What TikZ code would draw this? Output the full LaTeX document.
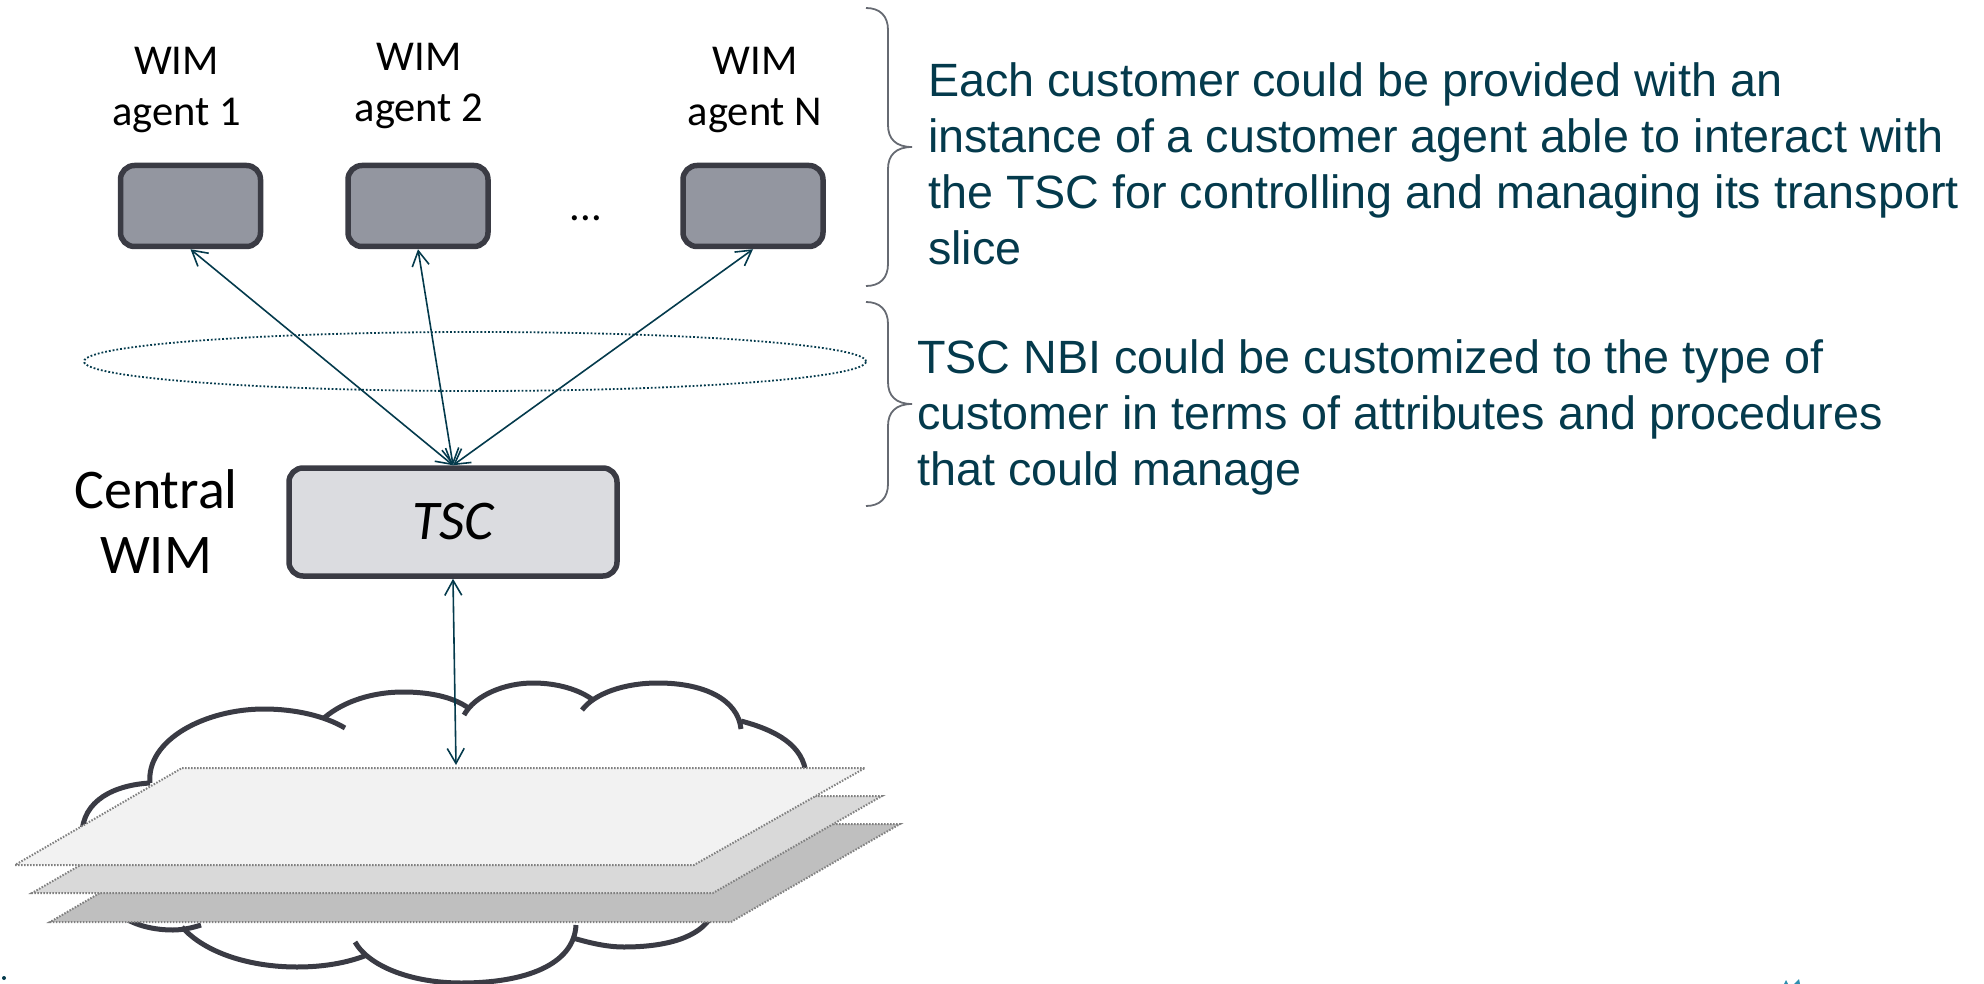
\documentclass[tikz,border=0pt]{standalone}
\usepackage{fontspec}
\setmainfont{Carlito}
\newfontfamily\bodyfont{Liberation Sans}
\usetikzlibrary{arrows.meta}

\definecolor{tealink}{HTML}{043A4C}
\definecolor{darkline}{HTML}{3A3B44}
\definecolor{agentfill}{HTML}{9396A0}
\definecolor{tscfill}{HTML}{DBDCE0}
\definecolor{bracegray}{HTML}{666A72}
\definecolor{specktint}{HTML}{2E8FB0}

\tikzset{
  agent/.style={draw=darkline, fill=agentfill, line width=5.5pt, rounded corners=14pt,
    minimum width=140pt, minimum height=81pt, inner sep=0pt},
  label/.style={align=center, inner sep=0pt, font=\fontsize{42.5}{51}\selectfont},
  biglabel/.style={align=center, inner sep=0pt, font=\fontsize{56}{65}\selectfont},
  bodytext/.style={align=left, anchor=north west, inner sep=0pt, text=tealink,
    font=\bodyfont\fontsize{46.7}{56}\selectfont},
  link/.style={<->, >={Straight Barb[length=15pt,width=17pt]}, draw=tealink, line width=1.6pt},
  cloudline/.style={draw=darkline, line width=5pt},
  slab/.style={draw=gray, dash pattern=on 1.5pt off 1.5pt, line width=2pt},
  bracket/.style={draw=bracegray, line width=1.8pt}
}

\begin{document}
\begin{tikzpicture}
  \useasboundingbox (0pt,0pt) rectangle (1984pt,-984pt);

  % cloud
  \draw[cloudline] (150pt,-783pt) .. controls (146pt,-740pt) and (205pt,-709pt) .. (264pt,-709pt)
    .. controls (295pt,-709pt) and (325pt,-716pt) .. (345pt,-728pt);
  \draw[cloudline] (324pt,-718pt) .. controls (345pt,-700pt) and (375pt,-692pt) .. (403pt,-692pt)
    .. controls (430pt,-692pt) and (452pt,-697pt) .. (467pt,-707pt);
  \draw[cloudline] (464pt,-715pt) .. controls (475pt,-695pt) and (505pt,-683pt) .. (533pt,-683pt)
    .. controls (558pt,-683pt) and (580pt,-690pt) .. (593pt,-700pt);
  \draw[cloudline] (582pt,-710pt) .. controls (595pt,-693pt) and (625pt,-683pt) .. (658pt,-683pt)
    .. controls (705pt,-683pt) and (738pt,-700pt) .. (741pt,-729pt);
  \draw[cloudline] (741pt,-721pt) .. controls (775pt,-730pt) and (804pt,-745pt) .. (806pt,-775pt);
  \draw[cloudline] (150pt,-783pt) .. controls (115pt,-785pt) and (82pt,-800pt) .. (82pt,-835pt);
  \draw[cloudline] (120pt,-915pt) .. controls (135pt,-926pt) and (155pt,-930pt) .. (173pt,-930pt)
    .. controls (182pt,-930pt) and (192pt,-928pt) .. (201pt,-925pt);
  \draw[cloudline] (182pt,-927pt) .. controls (205pt,-953pt) and (250pt,-967pt) .. (297pt,-967pt)
    .. controls (323pt,-967pt) and (347pt,-963pt) .. (367pt,-955pt);
  \draw[cloudline] (355pt,-942pt) .. controls (370pt,-968pt) and (415pt,-983pt) .. (461pt,-983pt)
    .. controls (525pt,-983pt) and (574pt,-965pt) .. (576pt,-925pt);
  \draw[cloudline] (573pt,-938pt) .. controls (590pt,-943pt) and (607pt,-947pt) .. (624pt,-947pt)
    .. controls (665pt,-947pt) and (700pt,-938pt) .. (712pt,-915pt);

  % slices
  \draw[slab, fill=black!25] (218pt,-824pt) -- (900pt,-824pt) -- (731pt,-922pt) -- (50pt,-922pt) -- cycle;
  \draw[slab, fill=black!15] (200pt,-796pt) -- (882pt,-796pt) -- (713pt,-893pt) -- (32pt,-893pt) -- cycle;
  \draw[slab, fill=black!5]  (182pt,-768pt) -- (865pt,-768pt) -- (694pt,-865pt) -- (15pt,-865pt) -- cycle;
  \coordinate (sliceTop) at (456pt,-765pt);

  % agents
  \node[agent] (agentA) at (190.5pt,-206pt) {};
  \node[agent] (agentB) at (418pt,-206pt) {};
  \node[agent] (agentN) at (753pt,-206pt) {};
  \node[label] (labelA) at (176.5pt,-90pt) {WIM\\agent 1};
  \node[label] (labelB) at (419pt,-86pt) {WIM\\agent 2};
  \node[label] (labelN) at (755pt,-90pt) {WIM\\agent N};
  \node[label] (dots) at (586pt,-218pt) {...};

  % controller
  \node[agent, fill=tscfill, minimum width=328pt, minimum height=108pt] (tsc)
    at (453pt,-522pt) {\raisebox{-2pt}{\fontsize{56}{65}\selectfont\itshape TSC}};
  \node[biglabel] (central) at (156pt,-522pt) {Central\\WIM};

  \draw[draw=tealink, dotted, line width=1.8pt] (475pt,-361.5pt) ellipse (391pt and 29.5pt);

  \draw[link] (agentA.south) -- (tsc.north);
  \draw[link] (agentB.south) -- (tsc.north);
  \draw[link] (agentN.south) -- (tsc.north);
  \draw[link] (tsc.south) -- (sliceTop);

  % braces
  \draw[bracket] (866pt,-8pt) .. controls (880pt,-8pt) and (888pt,-16pt) .. (888pt,-30pt)
    -- (888pt,-125pt) .. controls (888pt,-139pt) and (896pt,-147pt) .. (912pt,-147pt)
    .. controls (896pt,-147pt) and (888pt,-155pt) .. (888pt,-169pt)
    -- (888pt,-264pt) .. controls (888pt,-278pt) and (880pt,-286pt) .. (866pt,-286pt);
  \draw[bracket] (866pt,-302pt) .. controls (880pt,-302pt) and (888pt,-310pt) .. (888pt,-324pt)
    -- (888pt,-382pt) .. controls (888pt,-396pt) and (896pt,-404pt) .. (912pt,-404pt)
    .. controls (896pt,-404pt) and (888pt,-412pt) .. (888pt,-426pt)
    -- (888pt,-484pt) .. controls (888pt,-498pt) and (880pt,-506pt) .. (866pt,-506pt);

  \node[bodytext] (customerText) at (928pt,-62.2pt)
    {Each customer could be provided with an\\
     instance of a customer agent able to interact with\\
     the TSC for controlling and managing its transport\\
     slice};
  \node[bodytext] (nbiText) at (917pt,-339.2pt)
    {TSC NBI could be customized to the type of\\
     customer in terms of attributes and procedures\\
     that could manage};

  % specks at the edge
  \fill[tealink] (4pt,-978pt) circle (2pt);
  \fill[specktint] (1784pt,-984pt) -- (1786pt,-980pt) -- (1788pt,-984pt) -- cycle;
  \fill[specktint] (1794pt,-984pt) -- (1799pt,-979pt) -- (1800pt,-984pt) -- cycle;
\end{tikzpicture}
\end{document}
